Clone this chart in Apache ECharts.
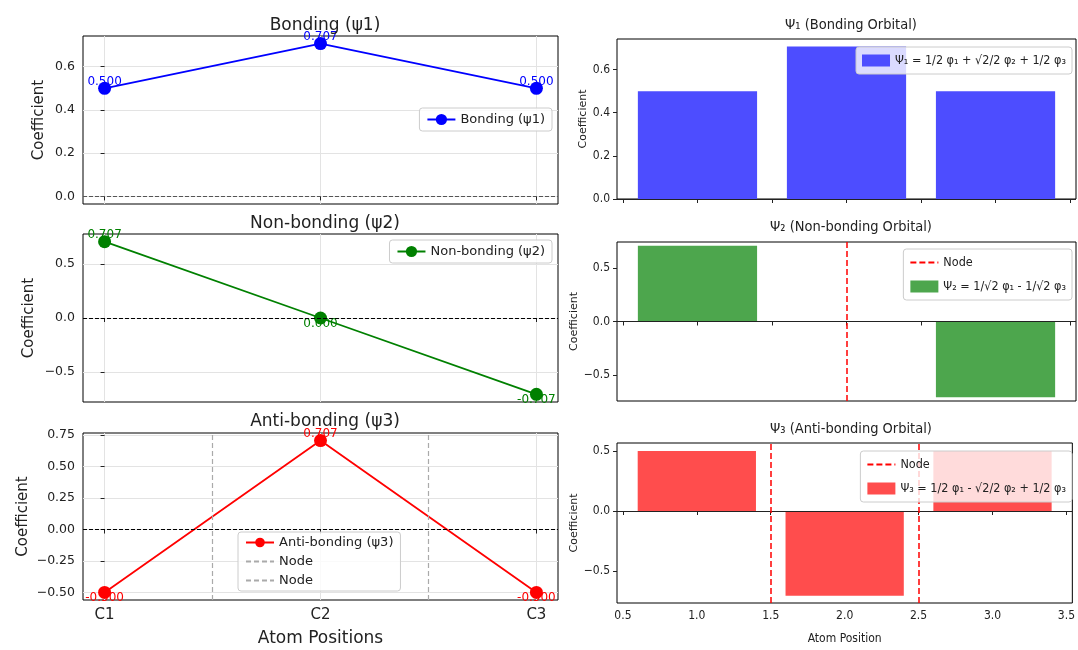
<!DOCTYPE html>
<html><head><meta charset="utf-8">
<script src="https://cdn.jsdelivr.net/npm/echarts@6/dist/echarts.min.js"></script>
<style>html,body{margin:0;padding:0;background:#fff}#c{width:1078px;height:650px}</style>
</head><body><div id="c"></div>
<script>
const atoms = ['C1', 'C2', 'C3'];
const psi1 = [0.5, 0.707, 0.5];
const psi2 = [0.707, 0.0, -0.707];
const psi3 = [-0.5, 0.707, -0.5];
const barPositions = [1, 2, 3];
const bar1 = [0.5, 0.707, 0.5];
const bar2 = [0.707, 0.0, -0.707];
const bar3 = [0.5, -0.707, 0.5];
const leftYTicks1 = [0, 0.2, 0.4, 0.6];
const leftYTicks2 = [-0.5, 0, 0.5];
const leftYTicks3 = [-0.5, -0.25, 0, 0.25, 0.5, 0.75];
const rightYTicks1 = [0, 0.2, 0.4, 0.6];
const rightYTicks2 = [-0.5, 0, 0.5];
const rightYTicks3 = [-0.5, 0, 0.5];
const rightXTicks = [0.5, 1, 1.5, 2, 2.5, 3, 3.5];
const nodesLeft3 = [0.5, 1.5];
const nodesRight2 = [2.0];
const nodesRight3 = [1.5, 2.5];
const leftTitles = ['Bonding (ψ1)', 'Non-bonding (ψ2)', 'Anti-bonding (ψ3)'];
const rightTitles = ['Ψ₁ (Bonding Orbital)', 'Ψ₂ (Non-bonding Orbital)', 'Ψ₃ (Anti-bonding Orbital)'];
const rightLegends = ['Ψ₁ = 1/2 φ₁ + √2/2 φ₂ + 1/2 φ₃', 'Ψ₂ = 1/√2 φ₁ - 1/√2 φ₃', 'Ψ₃ = 1/2 φ₁ - √2/2 φ₂ + 1/2 φ₃'];
const leftNodeNames = ['Node', 'Node '];
const rightNodeName = 'Node  ';

const F = 'DejaVu Sans';
const FC = "'DejaVu Sans Condensed', 'Liberation Sans Narrow', 'DejaVu Sans'";
const minus = s => String(s).replace('-', '\u2212');

const leftGrids = [
  {left: 83, top: 36, width: 475, height: 168},
  {left: 83, top: 234, width: 475, height: 168},
  {left: 83, top: 433, width: 475, height: 167}
];
const rightGrids = [
  {left: 617, top: 39, width: 459, height: 160},
  {left: 617, top: 242, width: 459, height: 159},
  {left: 617, top: 443, width: 459, height: 160}
];
const grids = leftGrids.concat(rightGrids).map(g => Object.assign({show: true, borderColor: '#000', borderWidth: 1, backgroundColor: 'transparent'}, g));

const xAxes = [], yAxes = [];
const leftYT = [leftYTicks1, leftYTicks2, leftYTicks3];
const leftYR = [[-0.035, 0.742], [-0.778, 0.778], [-0.56, 0.767]];
const leftYFmt = [v => v.toFixed(1), v => v.toFixed(1), v => v.toFixed(2)];
const leftNameGap = [36, 46, 52];
for (let i = 0; i < 3; i++) {
  const last = i === 2;
  xAxes.push({
    gridIndex: i, type: 'value', min: -0.1, max: 2.1,
    axisLine: {show: false},
    axisTick: {show: true, length: 4, lineStyle: {color: '#222'}, customValues: [0, 1, 2]},
    axisLabel: {show: last, customValues: [0, 1, 2], formatter: v => atoms[Math.round(v)], fontFamily: F, fontSize: 15, color: '#222', margin: 8},
    splitLine: {show: true, lineStyle: {color: '#e3e3e3', width: 1}},
    name: last ? 'Atom Positions' : '', nameLocation: 'middle', nameGap: 30,
    nameTextStyle: {fontFamily: F, fontSize: 17, color: '#222'}
  });
  yAxes.push({
    gridIndex: i, type: 'value', min: leftYR[i][0], max: leftYR[i][1],
    axisLine: {show: false},
    axisTick: {show: true, length: 4, lineStyle: {color: '#222'}, customValues: leftYT[i]},
    axisLabel: {customValues: leftYT[i], formatter: v => minus(leftYFmt[i](v)), fontFamily: F, fontSize: 12.5, color: '#222', margin: 8},
    splitLine: {show: true, lineStyle: {color: '#e3e3e3', width: 1}},
    name: 'Coefficient', nameLocation: 'middle', nameGap: leftNameGap[i],
    nameTextStyle: {fontFamily: F, fontSize: 15, color: '#222'}
  });
}
const rightYT = [rightYTicks1, rightYTicks2, rightYTicks3];
const rightYR = [[0, 0.742], [-0.742, 0.742], [-0.767, 0.567]];
const rightNameGap = [28, 34, 37];
for (let i = 0; i < 3; i++) {
  const last = i === 2;
  xAxes.push({
    gridIndex: 3 + i, type: 'value', min: 0.46, max: 3.54,
    axisLine: {show: false},
    axisTick: {show: true, length: 4, lineStyle: {color: '#222'}, customValues: rightXTicks},
    axisLabel: {show: last, customValues: rightXTicks, formatter: v => v.toFixed(1), fontFamily: FC, fontSize: 12, color: '#222', margin: 7},
    splitLine: {show: false},
    name: last ? 'Atom Position' : '', nameLocation: 'middle', nameGap: 30,
    nameTextStyle: {fontFamily: FC, fontSize: 12, color: '#222'}
  });
  yAxes.push({
    gridIndex: 3 + i, type: 'value', min: rightYR[i][0], max: rightYR[i][1],
    axisLine: {show: false},
    axisTick: {show: true, length: 4, lineStyle: {color: '#222'}, customValues: rightYT[i]},
    axisLabel: {customValues: rightYT[i], formatter: v => minus(v.toFixed(1)), fontFamily: FC, fontSize: 12, color: '#222', margin: 7},
    splitLine: {show: false},
    name: 'Coefficient', nameLocation: 'middle', nameGap: rightNameGap[i],
    nameTextStyle: {fontFamily: F, fontSize: 11, color: '#222'}
  });
}

const series = [];
const lineCols = ['#0000ff', '#008000', '#ff0000'];
const lineData = [psi1, psi2, psi3];
const zeroStyles = [{color: '#555', type: 'dashed', width: 1}, {color: '#000', type: 'dashed', width: 1}, {color: '#000', type: 'dashed', width: 1}];
for (let i = 0; i < 3; i++) {
  series.push({
    type: 'line', name: leftTitles[i], xAxisIndex: i, yAxisIndex: i,
    data: lineData[i].map((v, k) => ({
      value: [k, v],
      label: {position: v > 0 ? 'top' : 'bottom', distance: v > 0 ? -6 : -7}
    })),
    symbol: 'circle', symbolSize: 13,
    lineStyle: {color: lineCols[i], width: 1.8},
    itemStyle: {color: lineCols[i]},
    label: {show: true, formatter: p => p.value[1].toFixed(3), color: lineCols[i], fontFamily: F, fontSize: 12},
    markLine: {silent: true, symbol: 'none', label: {show: false}, lineStyle: zeroStyles[i], data: [{yAxis: 0}]},
    z: 3
  });
}
nodesLeft3.forEach((n, k) => {
  series.push({
    type: 'line', name: leftNodeNames[k], xAxisIndex: 2, yAxisIndex: 2, data: [],
    symbol: 'none', lineStyle: {color: '#aaaaaa', type: [5, 3], width: 1.2}, itemStyle: {color: '#aaaaaa', opacity: 0},
    markLine: {silent: true, symbol: 'none', label: {show: false}, lineStyle: {color: '#aaaaaa', type: [5, 3], width: 1.2}, data: [{xAxis: n}]}
  });
});

const barCols = ['rgb(77,77,255)', 'rgb(77,166,77)', 'rgb(255,77,77)'];
const barData = [bar1, bar2, bar3];
const rightNodes = [[], nodesRight2, nodesRight3];
for (let i = 0; i < 3; i++) {
  const col = barCols[i];
  series.push({
    type: 'custom', name: rightLegends[i], xAxisIndex: 3 + i, yAxisIndex: 3 + i,
    data: barPositions.map((x, k) => [x, barData[i][k]]),
    itemStyle: {color: col},
    renderItem: (params, api) => {
      const x = api.value(0), v = api.value(1);
      const p1 = api.coord([x - 0.4, Math.max(v, 0)]);
      const p2 = api.coord([x + 0.4, Math.min(v, 0)]);
      return {type: 'rect', shape: {x: p1[0], y: p1[1], width: p2[0] - p1[0], height: p2[1] - p1[1]}, style: {fill: col}};
    },
    z: 2
  });
  series.push({
    type: 'line', name: 'zero' + i, xAxisIndex: 3 + i, yAxisIndex: 3 + i, data: [],
    markLine: {silent: true, symbol: 'none', label: {show: false}, lineStyle: {color: '#222', type: 'solid', width: 1}, data: [{yAxis: 0}]},
    z: 3
  });
  if (rightNodes[i].length) {
    series.push({
      type: 'line', name: rightNodeName, xAxisIndex: 3 + i, yAxisIndex: 3 + i, data: [],
      symbol: 'none', lineStyle: {color: '#ff0000', type: [6, 3], width: 1.6}, itemStyle: {color: '#ff0000', opacity: 0},
      markLine: {silent: true, symbol: 'none', label: {show: false}, lineStyle: {color: '#ff0000', type: [6, 3], width: 1.5},
        data: rightNodes[i].map(n => ({xAxis: n}))},
      z: 4
    });
  }
}

const legBase = {orient: 'vertical', backgroundColor: 'rgba(255,255,255,0.8)', borderColor: '#cccccc', borderWidth: 1, borderRadius: 3,
  itemWidth: 28, itemHeight: 12, itemGap: 8, padding: [5, 6], z: 10};
const leftText = {fontFamily: F, fontSize: 13, color: '#222'};
const rightText = {fontFamily: FC, fontSize: 12.5, color: '#222'};
const legends = [
  Object.assign({}, legBase, {right: 526, top: 108, padding: [5, 7], itemHeight: 14, data: [leftTitles[0]], textStyle: leftText}),
  Object.assign({}, legBase, {right: 526, top: 240, padding: [5, 7], itemHeight: 14, data: [leftTitles[1]], textStyle: leftText}),
  Object.assign({}, legBase, {left: 238, top: 532, itemGap: 6, padding: [4, 7], data: [leftTitles[2], leftNodeNames[0], leftNodeNames[1]], textStyle: leftText}),
  Object.assign({}, legBase, {right: 6, top: 47, padding: [7, 6], data: [{name: rightLegends[0], icon: 'rect'}], textStyle: rightText}),
  Object.assign({}, legBase, {right: 6, top: 249, itemGap: 11, padding: [7, 6], data: [rightNodeName, {name: rightLegends[1], icon: 'rect'}], textStyle: rightText}),
  Object.assign({}, legBase, {right: 6, top: 451, itemGap: 11, padding: [7, 6], data: [rightNodeName, {name: rightLegends[2], icon: 'rect'}], textStyle: rightText})
];

const titles = [];
const lTop = [12, 210, 408];
const rTop = [13, 215, 417];
for (let i = 0; i < 3; i++) {
  titles.push({text: leftTitles[i], left: 320, top: lTop[i], textAlign: 'center', textStyle: {fontFamily: F, fontSize: 17, fontWeight: 'normal', color: '#222'}});
  titles.push({text: rightTitles[i], left: 846, top: rTop[i], textAlign: 'center', textStyle: {fontFamily: FC, fontSize: 14.5, fontWeight: 'normal', color: '#222'}});
}

const chart = echarts.init(document.getElementById('c'), null, {renderer: 'canvas'});
chart.setOption({
  animation: false,
  backgroundColor: '#fff',
  title: titles,
  grid: grids,
  xAxis: xAxes,
  yAxis: yAxes,
  legend: legends,
  series: series
});
</script></body></html>
